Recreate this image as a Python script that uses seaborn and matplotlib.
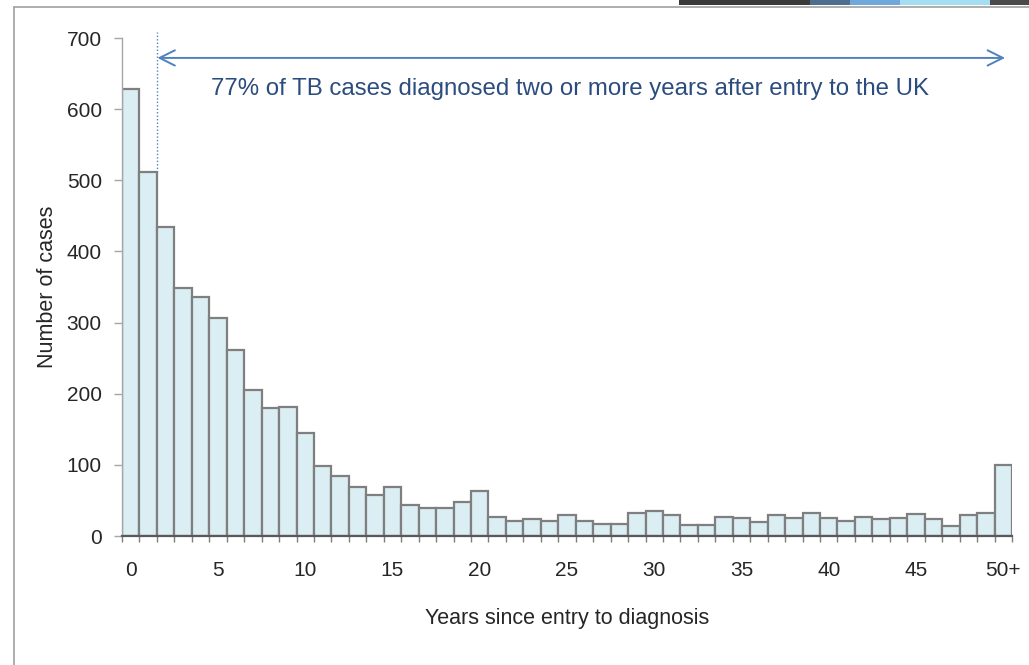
import matplotlib
matplotlib.use("Agg")
import matplotlib.pyplot as plt
from matplotlib.lines import Line2D
from matplotlib.patches import Rectangle
import seaborn as sns
import pandas as pd

# ---- data ----
years = [str(i) for i in range(50)] + ["50+"]
cases = [628, 512, 434, 348, 336, 307, 261, 205, 180, 182,
         145, 98, 84, 69, 57, 69, 43, 39, 39, 48,
         63, 27, 21, 24, 21, 30, 21, 17, 17, 33,
         35, 30, 15, 16, 27, 26, 20, 29, 26, 32,
         25, 21, 27, 24, 25, 31, 24, 14, 29, 32,
         100]
tick_labels = ["0", "5", "10", "15", "20", "25", "30", "35", "40", "45", "50+"]
y_ticks = [0, 100, 200, 300, 400, 500, 600, 700]
annotation = "77% of TB cases diagnosed two or more years after entry to the UK"
arrow_y = 672
arrow_start = 1.5
arrow_end = 50.1
dotted_top = 708

sns.set_style("white")
plt.rcParams["font.family"] = ["Liberation Sans", "DejaVu Sans"]

df = pd.DataFrame({"year": years, "cases": cases})

fig = plt.figure(figsize=(10.29, 6.65), dpi=100)
ax = fig.add_axes([122 / 1029, 129 / 665, 890 / 1029, 498 / 665])

sns.barplot(data=df, x="year", y="cases", order=years, color="#DAEEF3",
            saturation=1, width=1.0, edgecolor="#7F7F7F", linewidth=1.6, ax=ax)

ax.set_xlim(-0.5, len(years) - 0.5)
ax.set_ylim(0, 700)

# spines
for s in ["top", "right"]:
    ax.spines[s].set_visible(False)
ax.spines["left"].set_color("#A6A6A6")
ax.spines["left"].set_linewidth(1.0)
ax.spines["bottom"].set_color("#595959")
ax.spines["bottom"].set_linewidth(1.6)
ax.spines["bottom"].set_zorder(5)

# y ticks
ax.set_yticks(y_ticks)
ax.tick_params(axis="y", direction="out", length=5.5, width=1.0, color="#A6A6A6",
               labelsize=15, labelcolor="#262626", pad=9, left=True)

# x ticks: labels at bar centres, tick marks at bar edges
label_pos = [years.index(t) for t in tick_labels]
ax.set_xticks(label_pos)
ax.set_xticklabels(tick_labels)
ax.set_xticks([i - 0.5 for i in range(len(years) + 1)], minor=True)
ax.tick_params(axis="x", which="major", length=0, labelsize=15,
               labelcolor="#262626", pad=18)
ax.tick_params(axis="x", which="minor", direction="out", length=4.5, width=1.0,
               color="#7F7F7F", bottom=True)

ax.set_xlabel("Years since entry to diagnosis", fontsize=15.5, color="#262626",
              labelpad=20)
ax.set_ylabel("Number of cases", fontsize=15.5, color="#262626", labelpad=6)

# dotted marker line and arrow annotation
ax.plot([arrow_start, arrow_start], [cases[1], dotted_top], linestyle=(0, (1, 1.5)),
        color="#4F81BD", lw=1.0, clip_on=False, zorder=6)
ax.annotate("", xy=(arrow_start + 0.03, arrow_y), xytext=(arrow_end, arrow_y),
            arrowprops=dict(arrowstyle="<->,head_length=1.1,head_width=0.55",
                            color="#4F81BD", lw=1.4, shrinkA=0, shrinkB=0),
            annotation_clip=False)
ax.text(25.2, 628, annotation, ha="center", va="center", fontsize=17.3,
        color="#2B4C7E")

# slide frame decorations
fig.add_artist(Line2D([14 / 1029, 1], [1 - 7 / 665, 1 - 7 / 665],
                      transform=fig.transFigure, color="#A0A0A0", lw=1.2))
fig.add_artist(Line2D([14 / 1029, 14 / 1029], [0, 1 - 7 / 665],
                      transform=fig.transFigure, color="#A0A0A0", lw=1.2))
bands = [(679, 810, "#3A3A3A"), (810, 850, "#4E6E90"), (850, 900, "#6FA8DA"),
         (900, 990, "#A5DDF3"), (990, 1029, "#4A4A4A")]
for x0, x1, c in bands:
    fig.add_artist(Rectangle((x0 / 1029, 1 - 4.5 / 665), (x1 - x0) / 1029, 4.5 / 665,
                             transform=fig.transFigure, color=c, lw=0))

fig.savefig("out.png", dpi=100)
